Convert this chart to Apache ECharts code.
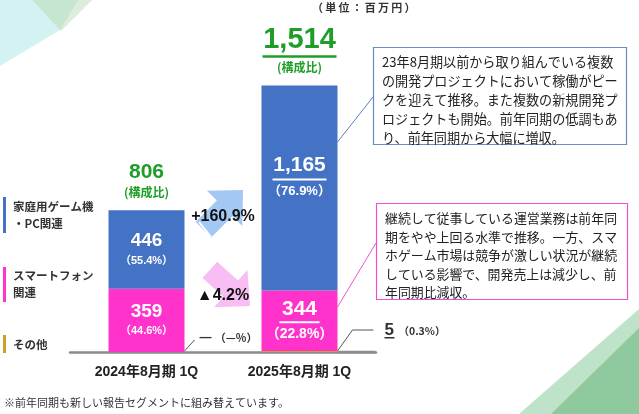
<!DOCTYPE html>
<html><head><meta charset="utf-8">
<script src="https://cdn.jsdelivr.net/npm/echarts@6/dist/echarts.min.js"></script>
<style>html,body{margin:0;padding:0;background:#fff}#c{width:639px;height:414px}</style>
</head><body><div id="c"></div>
<script>
// ---- data ----
const categories = ['2024年8月期 1Q', '2025年8月期 1Q'];
const consoleVals = [446, 1165];
const smartVals = [359, 344];
const otherVals = [0, 5];
const totals = [806, 1514];
const consolePct = ['55.4%', '76.9%'];
const smartPct = ['44.6%', '22.8%'];
const otherLabels = ['—', '5'];
const otherPct = ['—%', '0.3%'];
const growthLabels = ['+160.9%', '▲4.2%'];
const segmentNames = ['家庭用ゲーム機\n・PC関連', 'スマートフォン\n関連', 'その他'];
const unitText = '（単位：百万円）';
const note1 = ['23年8月期以前から取り組んでいる複数','の開発プロジェクトにおいて稼働がピー','クを迎えて推移。また複数の新規開発プ','ロジェクトも開始。前年同期の低調もあ','り、前年同期から大幅に増収。'];
const note2 = ['継続して従事している運営業務は前年同','期をやや上回る水準で推移。一方、スマ','ホゲーム市場は競争が激しい状況が継続','している影響で、開発売上は減少し、前','年同期比減収。'];
const footnote = '※前年同期も新しい報告セグメントに組み替えています。';

const FONT = "'Liberation Sans','Noto Sans CJK JP',sans-serif";
const JP = "'Noto Sans CJK JP','Liberation Sans',sans-serif";
const BLUE = '#4472C4', PINK = '#FF33CC', GOLD = '#C9A227', GREEN = '#1E9E28';

const chart = echarts.init(document.getElementById('c'));

function blueLabel(i) {
  const big = i === 1;
  return {
    show: true,
    position: big ? 'insideTop' : 'inside',
    distance: big ? 68 : 5,
    formatter: big ? '{n|' + consoleVals[i].toLocaleString('en-US') + '}\n{u| }\n{p|（' + consolePct[i] + '）}'
                   : '{m|' + consoleVals[i] + '}\n{q|（' + consolePct[i] + '）}',
    rich: {
      n: {fontSize: 21, fontWeight: 'bold', color: '#fff', fontFamily: FONT, lineHeight: 24},
      u: {width: 54, height: 2, lineHeight: 4, backgroundColor: '#fff'},
      p: {fontSize: 13, fontWeight: 'bold', color: '#fff', fontFamily: FONT, lineHeight: 20},
      m: {fontSize: 19, fontWeight: 'bold', color: '#fff', fontFamily: FONT, lineHeight: 22},
      q: {fontSize: 11, fontWeight: 'bold', color: '#fff', fontFamily: FONT, lineHeight: 18}
    }
  };
}
function pinkLabel(i) {
  const big = i === 1;
  return {
    show: true, position: 'inside',
    formatter: big ? '{n|' + smartVals[i] + '}\n{u| }\n{p|（' + smartPct[i] + '）}'
                   : '{m|' + smartVals[i] + '}\n{q|（' + smartPct[i] + '）}',
    rich: {
      n: {fontSize: 21, fontWeight: 'bold', color: '#fff', fontFamily: FONT, lineHeight: 23},
      u: {width: 40, height: 2, lineHeight: 4, backgroundColor: '#fff'},
      p: {fontSize: 14, fontWeight: 'bold', color: '#fff', fontFamily: FONT, lineHeight: 20},
      m: {fontSize: 19, fontWeight: 'bold', color: '#fff', fontFamily: FONT, lineHeight: 22},
      q: {fontSize: 11, fontWeight: 'bold', color: '#fff', fontFamily: FONT, lineHeight: 18}
    }
  };
}
function totalLabel(i) {
  const big = i === 1;
  return {
    show: true, position: 'top', distance: 9,
    formatter: big ? '{T|' + totals[i].toLocaleString('en-US') + '}\n{U| }\n{c|(構成比)}'
                   : '{t|' + totals[i] + '}\n{c|(構成比)}',
    rich: {
      T: {fontSize: 29, fontWeight: 'bold', color: GREEN, fontFamily: FONT, lineHeight: 30},
      U: {width: 74, height: 2.5, lineHeight: 4, backgroundColor: GREEN},
      t: {fontSize: 21, fontWeight: 'bold', color: GREEN, fontFamily: FONT, lineHeight: 22},
      c: {fontSize: 12, fontWeight: 'bold', color: GREEN, fontFamily: JP, lineHeight: 18}
    }
  };
}

const option = {
  animation: false,
  grid: {left: 70, right: 263, top: 0, bottom: 62, containLabel: false},
  xAxis: {
    type: 'category', data: categories,
    axisLine: {lineStyle: {color: '#8C8C8C', width: 2.5}},
    axisTick: {show: false},
    axisLabel: {fontSize: 14, fontWeight: 'bold', color: '#222', fontFamily: FONT, margin: 13}
  },
  yAxis: {type: 'value', min: 0, max: 2000, show: false},
  series: [
    {name: segmentNames[2], type: 'bar', stack: 's', barWidth: 76, itemStyle: {color: GOLD}, data: otherVals, z: 3},
    {name: segmentNames[1], type: 'bar', stack: 's', itemStyle: {color: PINK},
     data: smartVals.map((v, i) => ({value: v, label: pinkLabel(i)})), z: 3},
    {name: segmentNames[0], type: 'bar', stack: 's', itemStyle: {color: BLUE},
     data: consoleVals.map((v, i) => ({value: v, label: blueLabel(i)})), z: 3},
    {name: 'total', type: 'bar', stack: 's', itemStyle: {color: 'rgba(0,0,0,0)'},
     data: totals.map((v, i) => ({value: 0, label: totalLabel(i)})), z: 3}
  ]
};
chart.setOption(option);

// ---- annotations derived from axis positions ----
const base0 = chart.convertToPixel({gridIndex: 0}, [0, 0]);
const base1 = chart.convertToPixel({gridIndex: 0}, [1, 0]);
const half = 38;
const yBase = base0[1];
const r0 = base0[0] + half, r1 = base1[0] + half;
const midX = (base0[0] + base1[0]) / 2;

function arrowPts(tx, ty, angDeg, hl, hw, sw, sl) {
  const a = angDeg * Math.PI / 180, d = [Math.cos(a), Math.sin(a)], n = [-d[1], d[0]];
  const B = [tx - hl * d[0], ty - hl * d[1]], E = [B[0] - sl * d[0], B[1] - sl * d[1]];
  const P = (p, k) => [p[0] + k * n[0], p[1] + k * n[1]];
  return [[tx, ty], P(B, hw), P(B, sw), P(E, sw), P(E, -sw), P(B, -sw), P(B, -hw)];
}

const g = [];
// background decorations
g.push({type: 'polygon', z: -10, shape: {points: [[0,0],[78,0],[60,30],[0,66]]}, style: {fill: '#D5F2F3'}});
g.push({type: 'polygon', z: -9, shape: {points: [[32,0],[92,0],[61,31]]}, style: {fill: 'rgba(180,215,170,0.45)'}});
g.push({type: 'polygon', z: -10, shape: {points: [[519,414],[639,309],[639,414]]}, style: {fill: '#BFE3C8'}});
g.push({type: 'polygon', z: -9, shape: {points: [[551,414],[639,328],[639,414]]}, style: {fill: '#8FCA9F'}});

// unit
g.push({type: 'text', left: 312, top: 2, style: {text: unitText.split('').join('\u2009'), font: 'bold 11px ' + JP, fill: '#333'}});

// legend labels on the left
const legendDefs = [[BLUE, 197, 233, 198], [PINK, 267, 302, 267], [GOLD, 335, 353, 336]];
segmentNames.forEach((nm, i) => {
  const d = legendDefs[i];
  g.push({type: 'rect', shape: {x: 3, y: d[1], width: 3, height: d[2] - d[1]}, style: {fill: d[0]}});
  g.push({type: 'text', left: 13, top: d[3], style: {text: nm, font: 'bold 11.5px ' + JP, fill: '#333', lineHeight: 17}});
});

// growth arrows
g.push({type: 'polygon', z: 1, shape: {points: arrowPts(243, 190, -45, 26, 25, 11, 30)}, style: {fill: '#A4C8F4'}});
g.push({type: 'polyline', z: 2, shape: {points: [[199, 222], [211, 237]]}, style: {stroke: '#fff', lineWidth: 2}});
g.push({type: 'polygon', z: 1, shape: {points: arrowPts(250, 306, 42, 26, 25, 11, 28)}, style: {fill: '#F8BDF2'}});
g.push({type: 'text', z: 5, x: midX, y: 217, style: {text: growthLabels[0], font: 'bold 16px ' + FONT, fill: '#111', align: 'center', verticalAlign: 'middle'}});
g.push({type: 'text', z: 5, x: midX, y: 296, style: {text: growthLabels[1], font: 'bold 16px ' + FONT, fill: '#111', align: 'center', verticalAlign: 'middle'}});

// "other" segment callouts
g.push({type: 'polyline', shape: {points: [[r0, yBase - 1], [r0 + 10, yBase - 12]]}, style: {stroke: '#555', lineWidth: 1}});
g.push({type: 'text', x: r0 + 15, y: yBase - 14, style: {
  text: '{d|' + otherLabels[0] + '} {p|（' + otherPct[0] + '）}', verticalAlign: 'middle',
  rich: {d: {font: 'bold 12px ' + FONT, fill: '#333'}, p: {font: 'bold 11px ' + JP, fill: '#333'}}}});
g.push({type: 'polyline', shape: {points: [[r1, yBase - 1], [r1 + 15, yBase - 22], [r1 + 36, yBase - 22]]}, style: {stroke: '#555', lineWidth: 1}});
g.push({type: 'text', x: r1 + 47, y: yBase - 22, style: {text: otherLabels[1], font: 'bold 17px ' + FONT, fill: '#333', verticalAlign: 'middle'}});
g.push({type: 'rect', shape: {x: r1 + 47, y: yBase - 15, width: 10, height: 1.5}, style: {fill: '#333'}});
g.push({type: 'text', x: r1 + 61, y: yBase - 21, style: {text: '（' + otherPct[1] + '）', font: 'bold 10.5px ' + JP, fill: '#333', verticalAlign: 'middle'}});
// extend axis baseline to callout
g.push({type: 'line', shape: {x1: r1, y1: yBase, x2: r1 + 38, y2: yBase}, style: {stroke: '#8C8C8C', lineWidth: 2.5}});

// note boxes with connectors
g.push({type: 'polyline', shape: {points: [[r1, 142], [373, 97]]}, style: {stroke: '#5B7FC0', lineWidth: 1}});
g.push({type: 'rect', shape: {x: 373.5, y: 47.5, width: 253, height: 97}, style: {fill: '#fff', stroke: '#6A8CC8', lineWidth: 1.2}});
g.push({type: 'text', left: 382, top: 53, style: {text: note1.join('\n'), font: '13.1px ' + JP, fill: '#222', lineHeight: 19}});
g.push({type: 'polyline', shape: {points: [[r1, 307], [376, 243]]}, style: {stroke: '#F050D0', lineWidth: 1}});
g.push({type: 'rect', shape: {x: 376.5, y: 203.5, width: 251, height: 96}, style: {fill: '#fff', stroke: '#F050D0', lineWidth: 1.2}});
g.push({type: 'text', left: 385, top: 209, style: {text: note2.join('\n'), font: '12.9px ' + JP, fill: '#222', lineHeight: 18.5}});

// footnote
g.push({type: 'text', left: 4, top: 397, style: {text: footnote, font: '11px ' + JP, fill: '#333'}});

chart.setOption({graphic: g});
</script></body></html>
